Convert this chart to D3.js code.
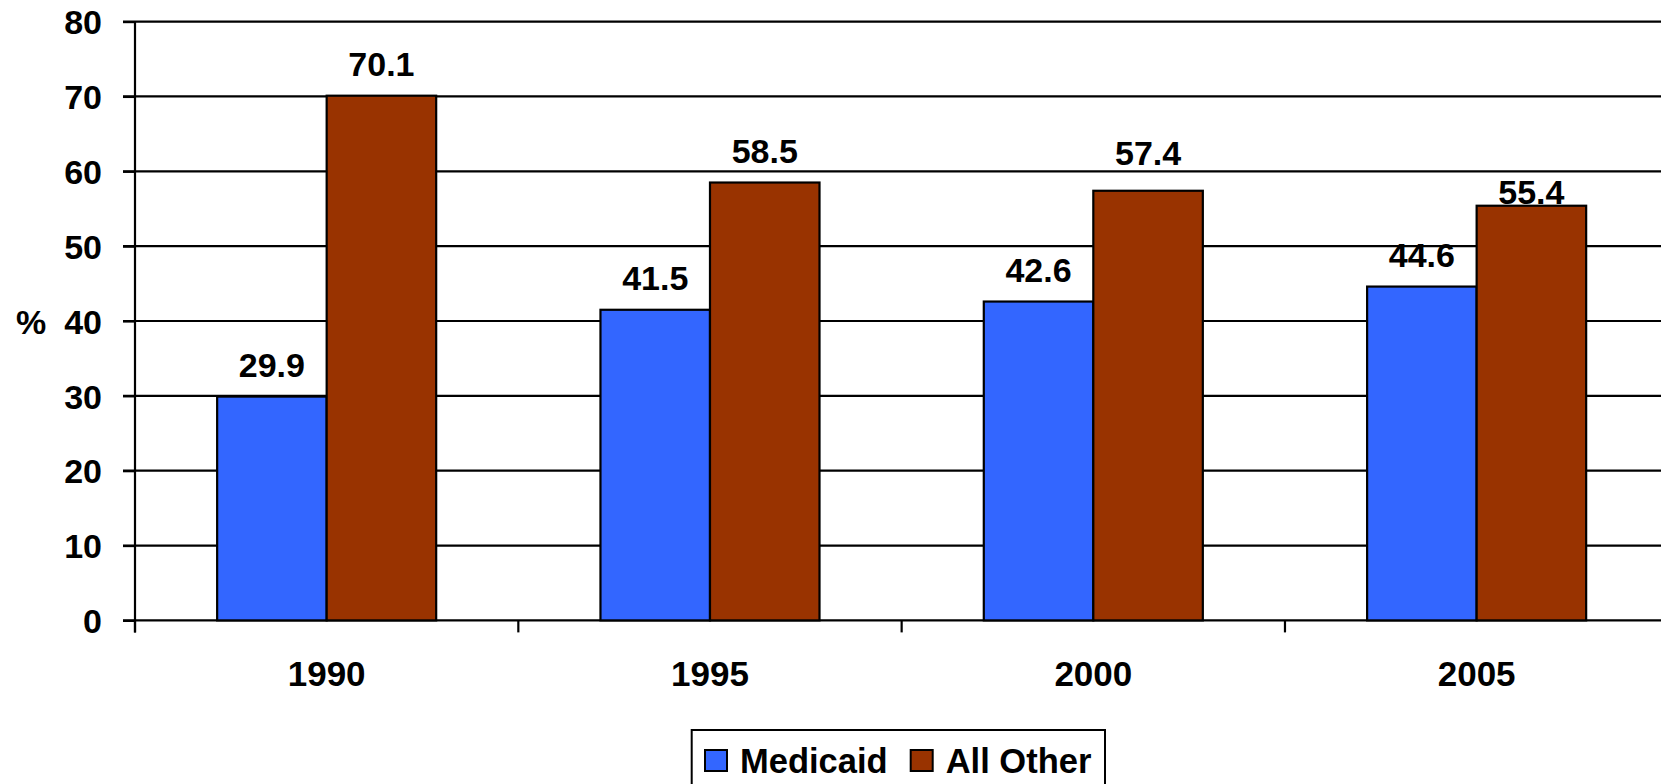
<!DOCTYPE html>
<html>
<head>
<meta charset="utf-8">
<script src="https://cdn.jsdelivr.net/npm/d3@7"></script>
<style>
  html, body { margin: 0; padding: 0; background: #fff; overflow: hidden; }
  svg { display: block; }
  text { font-family: "Liberation Sans", Arial, sans-serif; font-weight: bold; fill: #000; }
</style>
</head>
<body>
<svg id="chart" width="1661" height="784"></svg>
<script>
// ---- data ----
const categories = ["1990", "1995", "2000", "2005"];
const seriesNames = ["Medicaid", "All Other"];
const medicaid = [29.9, 41.5, 42.6, 44.6];
const allOther = [70.1, 58.5, 57.4, 55.4];
const yTicks = [0, 10, 20, 30, 40, 50, 60, 70, 80];
const yLabel = "%";
const colors = ["#3366FF", "#993300"];

// ---- layout ----
const plot = { left: 135, right: 1668.3, top: 21.6, bottom: 620.4 };
const fontSize = 34;

const svg = d3.select("#chart");

const x = d3.scaleBand().domain(categories).range([plot.left, plot.right]).paddingInner(0).paddingOuter(0);
const barW = x.bandwidth() / 3.5; // gap width 150%
const y = d3.scaleLinear().domain([0, 80]).range([plot.bottom, plot.top]);

// gridlines (incl. the zero line)
svg.append("g").selectAll("line").data(yTicks).join("line")
  .attr("x1", plot.left - 12).attr("x2", plot.right)
  .attr("y1", d => y(d)).attr("y2", d => y(d))
  .attr("stroke", "#000").attr("stroke-width", 2.2);

// y axis labels via d3 axis
const yAxis = svg.append("g").attr("transform", `translate(${plot.left},0)`)
  .call(d3.axisLeft(y).tickValues(yTicks).tickFormat(d3.format("d")).tickSize(12).tickPadding(21).tickSizeOuter(0));
yAxis.select(".domain").remove();
yAxis.selectAll(".tick line").attr("stroke", "#000").attr("stroke-width", 2.2);
yAxis.selectAll(".tick text").attr("font-size", fontSize).attr("font-family", "Liberation Sans, Arial, sans-serif")
  .attr("font-weight", "bold").attr("fill", "#000").attr("dy", "0.36em");

// vertical axis line
svg.append("line").attr("x1", plot.left).attr("x2", plot.left)
  .attr("y1", y(80)).attr("y2", y(0) + 12).attr("stroke", "#000").attr("stroke-width", 2.2);

// category boundary ticks
const boundaries = categories.map(c => x(c)).concat([x(categories[categories.length - 1]) + x.bandwidth()]);
svg.append("g").selectAll("line").data(boundaries).join("line")
  .attr("x1", d => d).attr("x2", d => d)
  .attr("y1", y(0)).attr("y2", y(0) + 12)
  .attr("stroke", "#000").attr("stroke-width", 2.2);

// x axis labels via d3 axis
const xAxis = svg.append("g").attr("transform", `translate(0,${y(0)})`)
  .call(d3.axisBottom(x).tickSize(0).tickPadding(0));
xAxis.select(".domain").remove();
xAxis.selectAll(".tick text").attr("font-size", 35).attr("font-family", "Liberation Sans, Arial, sans-serif")
  .attr("font-weight", "bold").attr("fill", "#000").attr("dy", null).attr("y", 65.3);

// bars
const series = [medicaid, allOther];
const rows = [];
categories.forEach((c, i) => {
  series.forEach((s, k) => {
    rows.push({ cat: c, k: k, v: s[i] });
  });
});
const groupStart = c => x(c) + x.bandwidth() / 2 - barW;

svg.append("g").selectAll("rect").data(rows).join("rect")
  .attr("x", d => groupStart(d.cat) + d.k * barW)
  .attr("y", d => y(d.v))
  .attr("width", barW)
  .attr("height", d => y(0) - y(d.v))
  .attr("fill", d => colors[d.k])
  .attr("stroke", "#000").attr("stroke-width", 2.2);

// data labels (above bars, moved off a gridline if they would straddle it)
const capH = fontSize * 0.716;
function labelBaseline(v) {
  const top = y(v);
  let base = top - 19.5;
  const tTop = base - capH;
  const hit = yTicks.map(t => y(t)).find(g => g > tTop + 5 && g < base + 2);
  if (hit !== undefined) {
    const alt = hit + 8 + capH;
    if (alt < top - 1) base = alt; else base = hit - 6;
  }
  return base;
}
svg.append("g").selectAll("text").data(rows).join("text")
  .attr("x", d => groupStart(d.cat) + d.k * barW + barW / 2)
  .attr("y", d => labelBaseline(d.v))
  .attr("text-anchor", "middle")
  .attr("font-size", fontSize)
  .text(d => d3.format(".1f")(d.v));

// y label
svg.append("text").attr("x", 16).attr("y", y(40) + 12.5)
  .attr("font-size", fontSize).text(yLabel);

// legend
const lg = svg.append("g");
lg.append("rect").attr("x", 691.7).attr("y", 730).attr("width", 413.3).attr("height", 70)
  .attr("fill", "#fff").attr("stroke", "#000").attr("stroke-width", 2);
const legendX = [705, 910.7];
seriesNames.forEach((name, k) => {
  lg.append("rect").attr("x", legendX[k]).attr("y", 750).attr("width", 22).attr("height", 21)
    .attr("fill", colors[k]).attr("stroke", "#000").attr("stroke-width", 2);
  lg.append("text").attr("x", legendX[k] + 35).attr("y", 772.5)
    .attr("font-size", 34.5).text(name);
});
</script>
</body>
</html>
